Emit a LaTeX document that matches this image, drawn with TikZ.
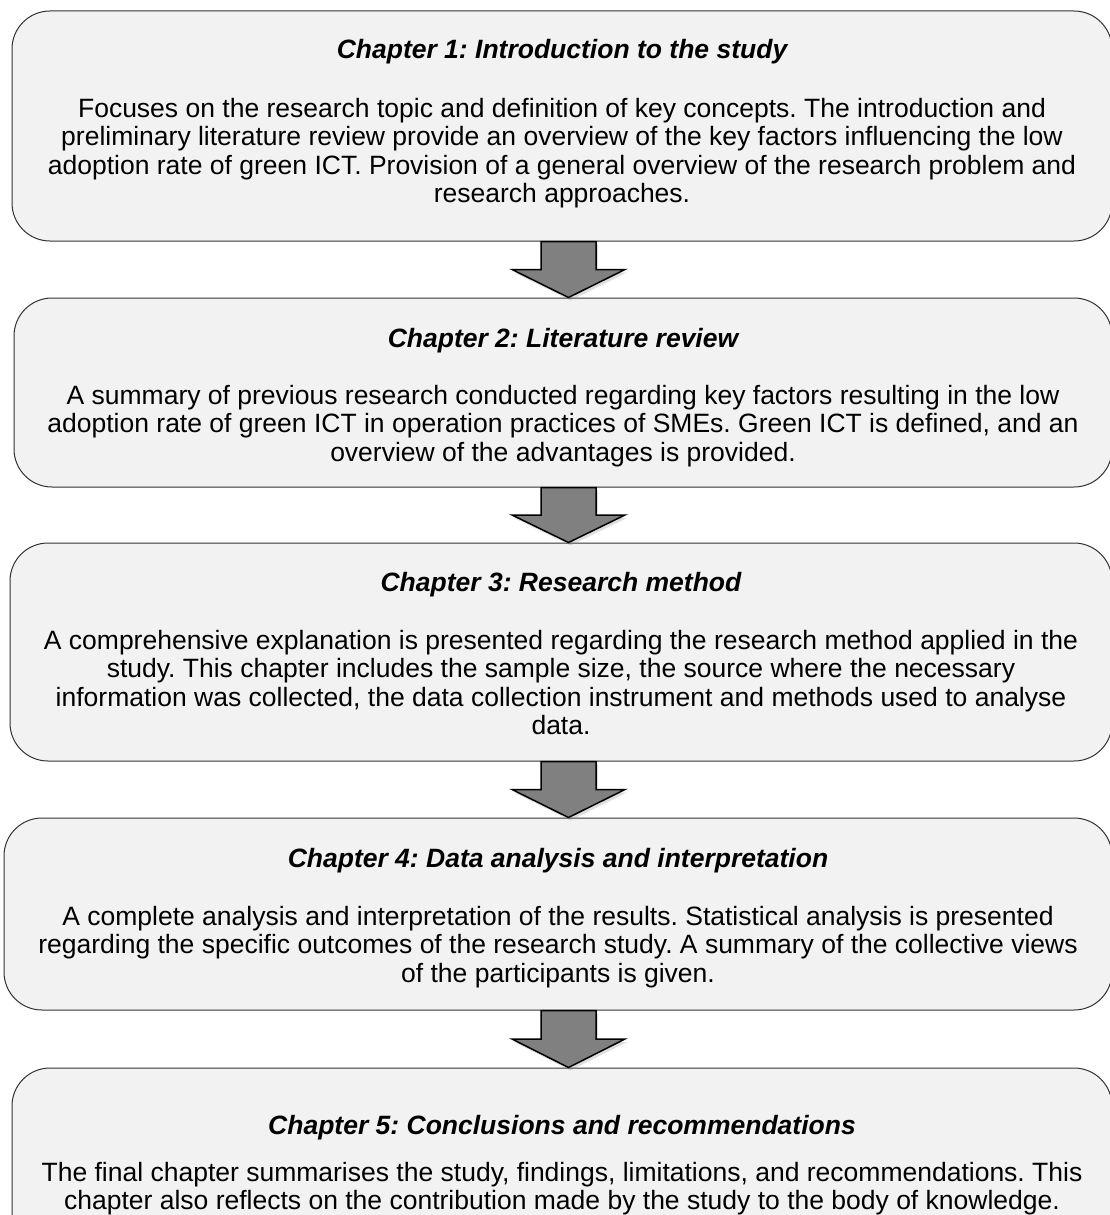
\documentclass[tikz,border=0pt]{standalone}
\usepackage{fontspec}
\setmainfont{Liberation Sans}
\usetikzlibrary{shadows,calc}
\definecolor{boxfill}{HTML}{F2F2F2}
\definecolor{arrowfill}{HTML}{808080}
\definecolor{boxline}{HTML}{333333}
\tikzset{
  chapbox/.style={draw=boxline, line width=1pt, fill=boxfill, rounded corners=38pt, inner sep=0pt},
  chaptitle/.style={font=\fontsize{26.5}{28.5}\selectfont\bfseries\itshape, anchor=base, inner sep=0pt},
  chapbody/.style={font=\fontsize{26.5}{28.5}\selectfont, align=center, anchor=north, inner sep=0pt},
  flowarrow/.style={draw=black, line width=1.5pt, fill=arrowfill, line join=miter,
    drop shadow={opacity=0.25, shadow xshift=2pt, shadow yshift=-3pt}}
}
\newcommand\flowdown[2]{%
  \draw[flowarrow] let \p1=(#1), \p2=(#2), \p3=($(#1)!0.5!(#2)$) in
    (\x1-27.5pt,\y1) -- (\x1+27.5pt,\y1) -- (\x1+27.5pt,\y3) -- (\x1+56.5pt,\y3)
    -- (\x2,\y2) -- (\x1-56.5pt,\y3) -- (\x1-27.5pt,\y3) -- cycle;}
\frenchspacing
\begin{document}
\frenchspacing
\begin{tikzpicture}[x=1pt,y=-1pt]
\useasboundingbox (0,0) rectangle (1110,1215);
\fill[white] (0,0) rectangle (1110,1215);
\clip (0,0) rectangle (1110,1215);

% boxes
\node[chapbox, minimum width=1100pt, minimum height=230pt] (b1) at (562,126) {};
\node[chapbox, minimum width=1098pt, minimum height=189pt] (b2) at (563,392.5) {};
\node[chapbox, minimum width=1102pt, minimum height=218pt] (b3) at (561,652) {};
\node[chapbox, minimum width=1108pt, minimum height=192pt] (b4) at (558,914) {};
\node[chapbox, minimum width=1100pt, minimum height=190pt] (b5) at (562,1163) {};

% titles
\node[chaptitle] (t1) at (562,59) {Chapter 1: Introduction to the study};
\node[chaptitle] (t2) at (563,347) {Chapter 2: Literature review};
\node[chaptitle] (t3) at (561,591) {Chapter 3: Research method};
\node[chaptitle] (t4) at (558,867) {Chapter 4: Data analysis and interpretation};
\node[chaptitle] (t5) at (562,1134) {Chapter 5: Conclusions and recommendations};

% bodies (top = first baseline - 22)
\node[chapbody] (d1) at (562,95) {\rule{0pt}{22pt}Focuses on the research topic and definition of key concepts. The introduction and\\
preliminary literature review provide an overview of the key factors influencing the low\\
adoption rate of green ICT. Provision of a general overview of the research problem and\\
research approaches.};
\node[chapbody] (d2) at (563,382) {\rule{0pt}{22pt}A summary of previous research conducted regarding key factors resulting in the low\\
adoption rate of green ICT in operation practices of SMEs. Green ICT is defined, and an\\
overview of the advantages is provided.};
\node[chapbody] (d3) at (561,627) {\rule{0pt}{22pt}A comprehensive explanation is presented regarding the research method applied in the\\
study. This chapter includes the sample size, the source where the necessary\\
information was collected, the data collection instrument and methods used to analyse\\
data.};
\node[chapbody] (d4) at (558,903) {\rule{0pt}{22pt}A complete analysis and interpretation of the results. Statistical analysis is presented\\
regarding the specific outcomes of the research study. A summary of the collective views\\
of the participants is given.};
\node[chapbody] (d5) at (562,1159) {\rule{0pt}{22pt}The final chapter summarises the study, findings, limitations, and recommendations. This\\
chapter also reflects on the contribution made by the study to the body of knowledge.};

% arrows
\coordinate (a1s) at ([xshift=6.5pt]b1.south);
\coordinate (a1e) at ([xshift=5.5pt]b2.north);
\coordinate (a2s) at ([xshift=5.5pt]b2.south);
\coordinate (a2e) at ([xshift=7.5pt]b3.north);
\coordinate (a3s) at ([xshift=7.5pt]b3.south);
\coordinate (a3e) at ([xshift=10.5pt]b4.north);
\coordinate (a4s) at ([xshift=10.5pt]b4.south);
\coordinate (a4e) at ([xshift=6.5pt]b5.north);
\flowdown{a1s}{a1e}
\flowdown{a2s}{a2e}
\flowdown{a3s}{a3e}
\flowdown{a4s}{a4e}
\end{tikzpicture}
\end{document}
